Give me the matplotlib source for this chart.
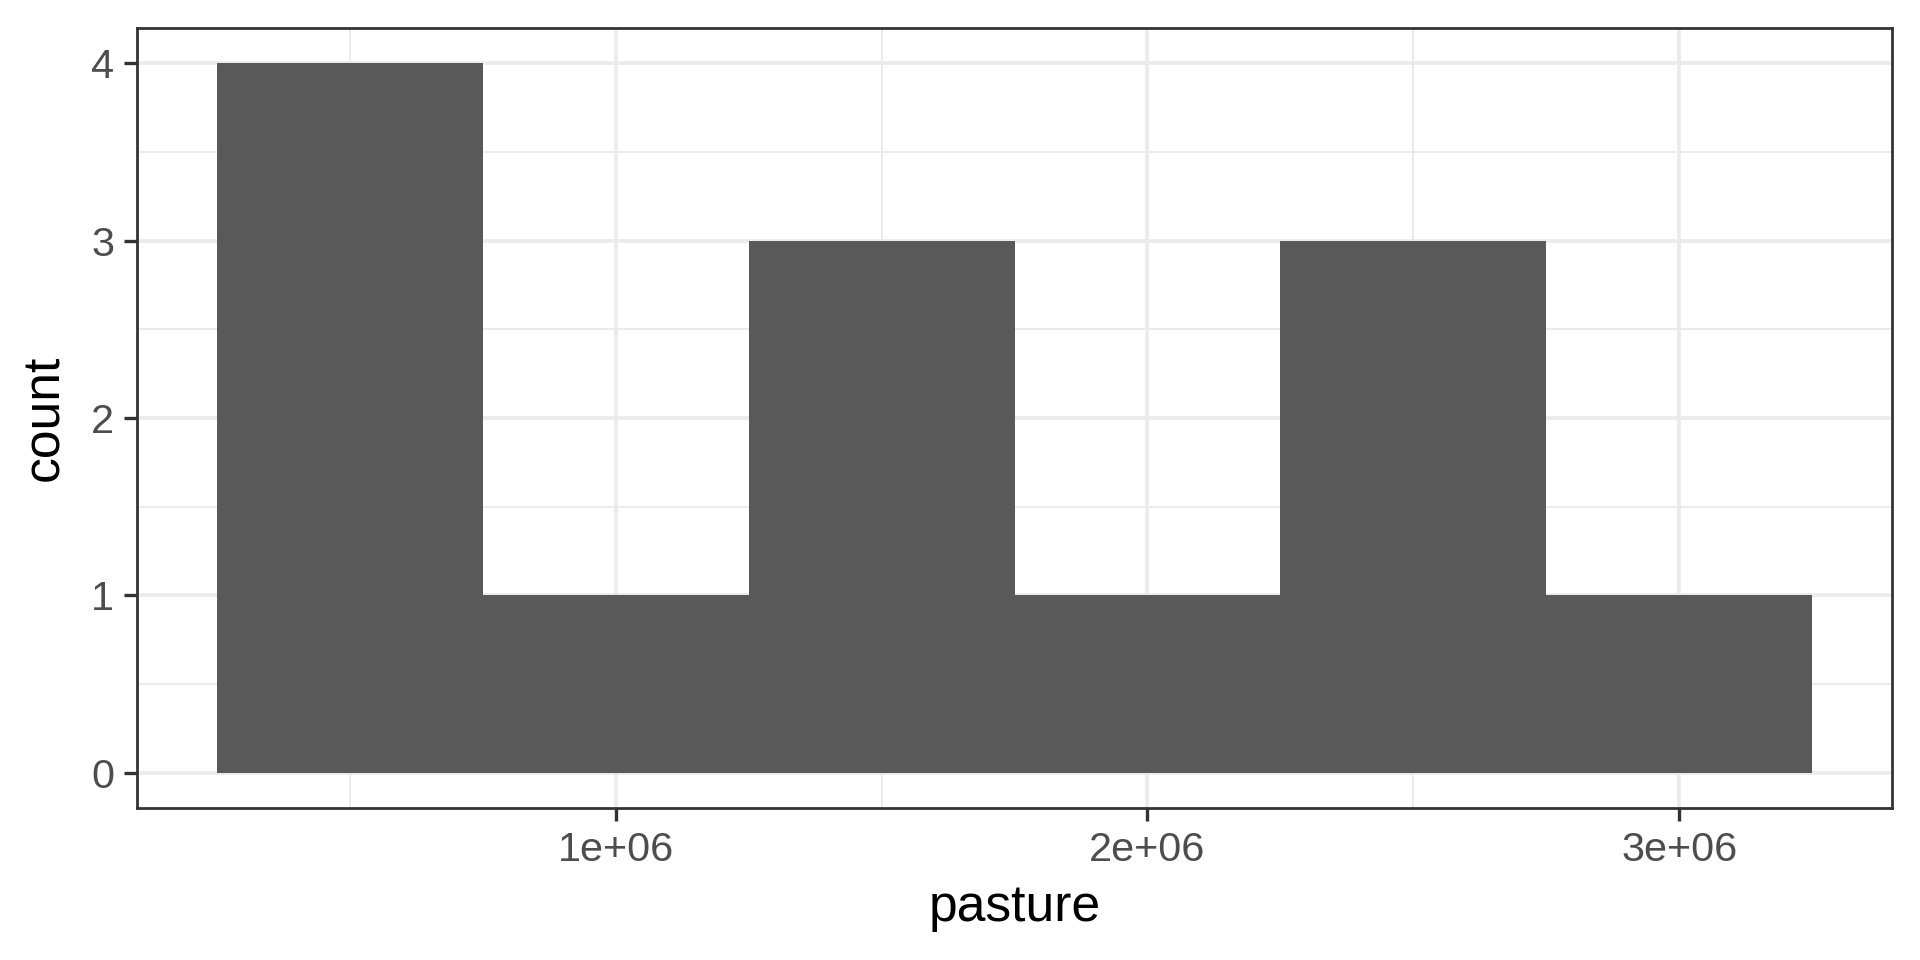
import matplotlib.pyplot as plt
from matplotlib.ticker import FixedLocator, FuncFormatter

# histogram of pasture, binwidth 5e5
bin_edges = [0.25e6, 0.75e6, 1.25e6, 1.75e6, 2.25e6, 2.75e6, 3.25e6]
counts = [4, 1, 3, 1, 3, 1]
x_ticks = [1e6, 2e6, 3e6]
y_ticks = [0, 1, 2, 3, 4]

plt.rcParams['font.family'] = ['Liberation Sans', 'DejaVu Sans']

fig = plt.figure(figsize=(9.6, 4.8), dpi=200)
ax = fig.add_axes([137 / 1920, 1 - 808 / 960, (1892 - 137) / 1920, (808 - 28) / 960])

# one filled step polygon, so no seams between adjacent bins
ax.stairs(counts, bin_edges, fill=True, color='#595959', linewidth=0, zorder=3)

# ggplot-like expansion of 5%
xr = bin_edges[-1] - bin_edges[0]
ax.set_xlim(bin_edges[0] - 0.05 * xr, bin_edges[-1] + 0.05 * xr)
ax.set_ylim(-0.05 * max(counts), max(counts) * 1.05)

ax.xaxis.set_major_locator(FixedLocator(x_ticks))
ax.xaxis.set_minor_locator(FixedLocator([0.5e6, 1.5e6, 2.5e6]))
ax.yaxis.set_major_locator(FixedLocator(y_ticks))
ax.yaxis.set_minor_locator(FixedLocator([0.5, 1.5, 2.5, 3.5]))
ax.xaxis.set_major_formatter(FuncFormatter(lambda v, p: f"{v:.0e}"))

ax.grid(which='major', color='#EBEBEB', linewidth=1.35, zorder=0)
ax.grid(which='minor', color='#EBEBEB', linewidth=0.7, zorder=0)
ax.set_axisbelow(True)

for s in ax.spines.values():
    s.set_color('#333333')
    s.set_linewidth(1.0)

ax.tick_params(which='major', length=4.7, width=1.2, color='#333333',
               labelsize=14.9, labelcolor='#4D4D4D', pad=3.5)
ax.tick_params(which='minor', length=0)

ax.set_xlabel('pasture', fontsize=18.6, color='black', labelpad=5)
ax.set_ylabel('count', fontsize=18.6, color='black', labelpad=8)

fig.savefig('out.png', dpi=200, facecolor='white')
